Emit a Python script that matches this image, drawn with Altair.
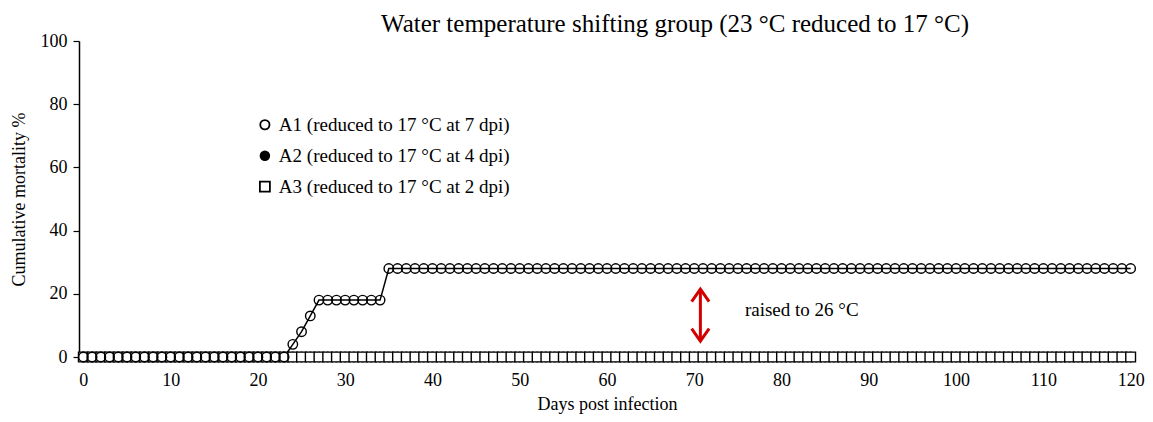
import altair as alt
import pandas as pd

days = list(range(0, 121))
a1_values = [0] * 24 + [4, 8, 13] + [18] * 8 + [28] * 86
a2_values = [0] * 121
a3_values = [0] * 121

series_names = ["A1 (reduced to 17 °C at 7 dpi)",
                "A2 (reduced to 17 °C at 4 dpi)",
                "A3 (reduced to 17 °C at 2 dpi)"]

arrow_x = [70.7, 70.7]
arrow_y = [21.5, 5.0]
head_top_x = [69.7, 70.7, 71.7]
head_top_y = [17.5, 21.5, 17.5]
head_bot_x = [69.7, 70.7, 71.7]
head_bot_y = [9.0, 5.0, 9.0]
note_text = ["raised to 26 °C"]
note_x = [75.8]
note_y = [15.0]

FONT = "Liberation Serif"

rows = []
for name, vals in zip(series_names, [a1_values, a2_values, a3_values]):
    for d, v in zip(days, vals):
        rows.append({"day": d, "value": v, "series": name})
df = pd.DataFrame(rows)

xs = alt.Scale(domain=[-0.5, 120.5], nice=False, zero=False)
ys = alt.Scale(domain=[0, 100], nice=False)

x_axis = alt.Axis(values=list(range(0, 121, 10)), ticks=False, grid=False, labelPadding=14,
                  title="Days post infection", titlePadding=6, labelFontSize=18, titleFontSize=18,
                  titleFontWeight="normal",
                  domainColor="black", domainWidth=1.5, labelColor="black", titleColor="black",
                  labelFont=FONT, titleFont=FONT)
y_axis = alt.Axis(values=list(range(0, 101, 20)), tickSize=6, tickColor="black", tickWidth=1.2,
                  grid=False, labelPadding=6, title="Cumulative mortality %", titlePadding=12,
                  titleFontWeight="normal",
                  labelFontSize=18, titleFontSize=18, domainColor="black", domainWidth=1.5,
                  labelColor="black", titleColor="black", labelFont=FONT, titleFont=FONT)

base = alt.Chart(df)

lines = base.mark_line(color="black", strokeWidth=1.5).encode(
    x=alt.X("day:Q", scale=xs, axis=x_axis),
    y=alt.Y("value:Q", scale=ys, axis=y_axis),
    detail="series:N",
)

def pts(name, shape, fill, size):
    return alt.Chart(df[df["series"] == name]).mark_point(
        shape=shape, filled=False, fill=fill, stroke="black", strokeWidth=1.4, size=size, opacity=1
    ).encode(x=alt.X("day:Q", scale=xs), y=alt.Y("value:Q", scale=ys))

p2 = pts(series_names[1], "circle", "black", 90)
p3 = pts(series_names[2], "square", "white", 95)
p1 = pts(series_names[0], "circle", "transparent", 90)

leg = pd.DataFrame({
    "lx": [20.8, 20.8, 20.8],
    "ly": [73.5, 63.7, 53.9],
    "tx": [22.4, 22.4, 22.4],
    "label": series_names,
})
leg_c1 = alt.Chart(leg.iloc[[0]]).mark_point(shape="circle", fill="white", stroke="black",
                                              strokeWidth=1.8, size=85, opacity=1).encode(
    x=alt.X("lx:Q", scale=xs), y=alt.Y("ly:Q", scale=ys))
leg_c2 = alt.Chart(leg.iloc[[1]]).mark_point(shape="circle", filled=True, color="black",
                                              size=110, opacity=1).encode(
    x=alt.X("lx:Q", scale=xs), y=alt.Y("ly:Q", scale=ys))
leg_c3 = alt.Chart(leg.iloc[[2]]).mark_point(shape="square", fill="white", stroke="black",
                                              strokeWidth=1.8, size=100, opacity=1).encode(
    x=alt.X("lx:Q", scale=xs), y=alt.Y("ly:Q", scale=ys))
leg_t = alt.Chart(leg).mark_text(align="left", baseline="middle", font=FONT, fontSize=19,
                                 color="black").encode(
    x=alt.X("tx:Q", scale=xs), y=alt.Y("ly:Q", scale=ys), text="label:N")

red = "#d40000"
arrow = alt.Chart(pd.DataFrame({"x": arrow_x, "y": arrow_y})).mark_line(
    color=red, strokeWidth=3).encode(x=alt.X("x:Q", scale=xs), y=alt.Y("y:Q", scale=ys))
ht = alt.Chart(pd.DataFrame({"x": head_top_x, "y": head_top_y, "o": [0, 1, 2]})).mark_line(
    color=red, strokeWidth=3).encode(x=alt.X("x:Q", scale=xs), y=alt.Y("y:Q", scale=ys), order="o:Q")
hb = alt.Chart(pd.DataFrame({"x": head_bot_x, "y": head_bot_y, "o": [0, 1, 2]})).mark_line(
    color=red, strokeWidth=3).encode(x=alt.X("x:Q", scale=xs), y=alt.Y("y:Q", scale=ys), order="o:Q")
note = alt.Chart(pd.DataFrame({"x": note_x, "y": note_y, "t": note_text})).mark_text(
    align="left", baseline="middle", font=FONT, fontSize=19, color="black").encode(
    x=alt.X("x:Q", scale=xs), y=alt.Y("y:Q", scale=ys), text="t:N")

chart = alt.layer(lines, p2, p3, p1, leg_c1, leg_c2, leg_c3, leg_t, arrow, ht, hb, note).properties(
    width=1056, height=316,
    background="white",
    title=alt.TitleParams("Water temperature shifting group (23 °C reduced to 17 °C)",
                          font=FONT, fontSize=25, fontWeight="normal", color="black",
                          anchor="middle", dx=68, offset=-5),
    autosize=alt.AutoSizeParams(type="none"),
    padding={"left": 71, "top": 33, "right": 10, "bottom": 60},
).configure_view(stroke="transparent", strokeWidth=0)

chart.save("out.html", embed_options={"renderer": "svg", "actions": False})
